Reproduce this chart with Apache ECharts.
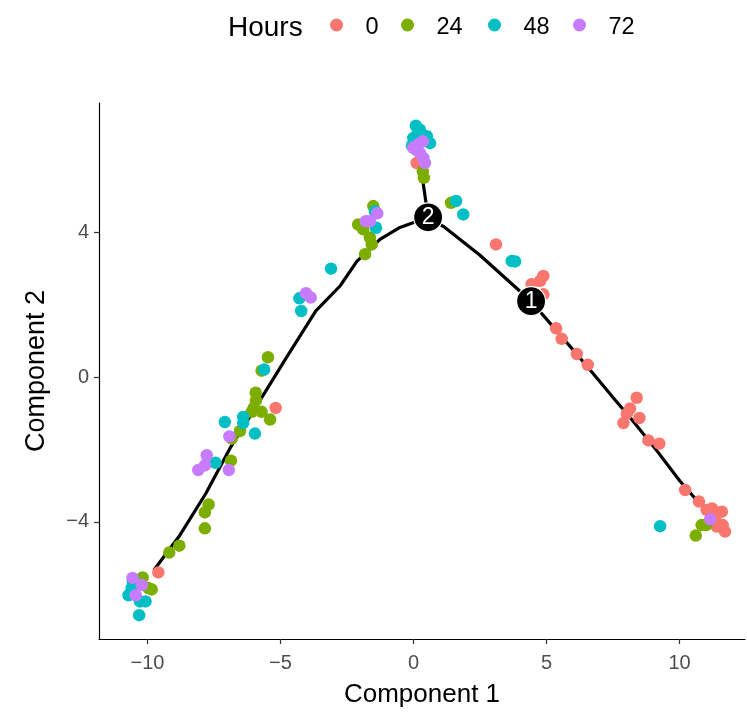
<!DOCTYPE html>
<html><head><meta charset="utf-8">
<script src="https://cdn.jsdelivr.net/npm/echarts@6/dist/echarts.min.js"></script>
<style>html,body{margin:0;padding:0;background:#fff}#c{width:747px;height:713px}</style>
</head><body><div id="c"></div>
<script>
const hours = ['0', '24', '48', '72'];
const pts0 = [[-9.59,-5.40],[-5.18,-0.85],[3.10,3.67],[4.88,2.80],[4.76,2.66],[4.44,2.57],[4.88,2.29],[5.36,1.35],[5.57,1.06],[6.14,0.64],[6.55,0.34],[8.39,-0.57],[8.14,-0.87],[8.02,-1.01],[8.49,-1.13],[7.89,-1.27],[8.83,-1.75],[9.24,-1.84],[10.21,-3.12],[10.73,-3.44],[11.02,-3.67],[11.59,-3.72],[11.33,-3.90],[11.62,-4.09],[11.71,-4.27],[11.40,-4.13],[11.22,-3.63],[0.12,5.92]];
const pts24 = [[-8.80,-4.66],[-9.18,-4.85],[-10.18,-5.54],[-9.84,-5.87],[-9.97,-5.83],[-7.70,-3.52],[-7.84,-3.74],[-7.84,-4.18],[-6.86,-2.31],[-6.83,-1.70],[-6.52,-1.49],[-6.08,-0.96],[-5.71,-0.96],[-5.39,-1.17],[-5.93,-0.43],[-5.92,-0.64],[-5.71,0.18],[-5.47,0.55],[-6.00,-0.85],[-1.82,3.40],[-1.57,3.67],[-1.64,3.86],[-1.89,4.09],[-2.08,4.22],[-1.51,4.73],[0.35,5.69],[0.39,5.51],[1.41,4.82],[10.83,-4.09],[11.00,-4.09],[10.61,-4.38]];
const pts48 = [[-10.59,-5.83],[-10.71,-6.03],[-10.28,-6.20],[-10.07,-6.20],[-10.31,-6.58],[-10.55,-5.64],[-7.44,-2.37],[-7.09,-1.24],[-6.40,-1.10],[-6.40,-1.27],[-5.96,-1.56],[-5.61,0.21],[-4.22,1.83],[-4.29,2.18],[-3.10,3.00],[-1.41,4.13],[-1.45,4.59],[1.60,4.87],[1.87,4.50],[3.69,3.21],[3.82,3.20],[9.27,-4.12],[0.09,6.95],[0.24,6.84],[-0.01,6.61],[0.50,6.66],[0.62,6.47],[0.17,6.76],[0.39,6.57],[-0.06,6.40]];
const pts72 = [[-10.56,-5.55],[-10.21,-5.75],[-10.44,-6.03],[-8.09,-2.57],[-7.84,-2.44],[-7.77,-2.16],[-6.92,-1.64],[-6.94,-2.57],[-4.04,2.32],[-3.86,2.20],[-1.79,4.31],[-1.64,4.31],[-1.36,4.53],[0.35,6.52],[-0.01,6.34],[0.24,6.20],[0.37,6.06],[0.43,5.92],[0.17,6.43],[0.09,6.29],[11.15,-3.93]];
const trunk = [[-9.76,-5.34],[-8.78,-4.37],[-7.80,-3.21],[-6.90,-1.97],[-5.85,-0.74],[-4.76,0.56],[-3.67,1.83],[-2.76,2.52],[-2.13,3.20],[-1.26,3.81],[-0.51,4.14],[0.55,4.42],[1.18,4.14],[2.50,3.37],[4.42,2.10],[5.51,1.17],[6.64,0.20],[7.58,-0.63],[8.21,-1.18],[9.08,-1.97],[10.02,-2.88],[10.58,-3.35],[10.96,-3.63]];
const branch = [[0.55,4.42],[0.36,5.38],[0.32,5.60]];
const nodes = [[4.42,2.10],[0.55,4.42]];
const nodeLabels = ['1', '2'];
const xTicks = [-10, -5, 0, 5, 10];
const yTicks = [-4, 0, 4];

const palette = ['#F8766D', '#7CAE00', '#00BFC4', '#C77CFF'];
const groups = [pts0, pts24, pts48, pts72];
const FONT = 'Liberation Sans, Arial, sans-serif';
const chart = echarts.init(document.getElementById('c'));
const legendLefts = [325, 396, 483, 568];
chart.setOption({
  animation: false,
  title: { text: 'Hours', left: 223, top: 9, textStyle: { fontFamily: FONT, fontSize: 28, fontWeight: 'normal', color: '#000' } },
  legend: hours.map((h, i) => ({
    data: [h], left: legendLefts[i], top: 11, icon: 'circle', itemWidth: 48, itemHeight: 13,
    formatter: n => '{a|' + n + '}',
    textStyle: { rich: { a: { fontFamily: FONT, fontSize: 23.5, color: '#000', padding: [6, 0, 0, 0] } } }
  })),
  grid: { left: 99, right: 2, top: 103, bottom: 72 },
  xAxis: {
    type: 'value', min: -11.82, max: 12.46,
    name: 'Component 1', nameLocation: 'middle', nameGap: 43,
    nameTextStyle: { fontFamily: FONT, fontSize: 26, color: '#000' },
    axisLine: { onZero: false, lineStyle: { color: '#000', width: 1.2 } },
    axisTick: { length: 5, customValues: xTicks, lineStyle: { color: '#333', width: 1.2 } },
    axisLabel: { customValues: xTicks, margin: 14, fontFamily: FONT, fontSize: 20, color: '#4D4D4D', formatter: v => String(v).replace('-', '\u2212') },
    splitLine: { show: false }
  },
  yAxis: {
    type: 'value', min: -7.24, max: 7.58,
    name: 'Component 2', nameLocation: 'middle', nameGap: 49,
    nameTextStyle: { fontFamily: FONT, fontSize: 27, color: '#000' },
    axisLine: { onZero: false, lineStyle: { color: '#000', width: 1.2 } },
    axisTick: { length: 5, customValues: yTicks, lineStyle: { color: '#333', width: 1.2 } },
    axisLabel: { customValues: yTicks, margin: 10, fontFamily: FONT, fontSize: 20, color: '#4D4D4D', formatter: v => String(v).replace('-', '\u2212') },
    splitLine: { show: false }
  },
  series: [
    { type: 'line', data: trunk, showSymbol: false, symbol: 'none', z: 1, lineStyle: { color: '#000', width: 3.2 }, silent: true },
    { type: 'line', data: branch, showSymbol: false, symbol: 'none', z: 1, lineStyle: { color: '#000', width: 3.2 }, silent: true },
    ...hours.map((h, i) => ({
      name: h, type: 'scatter', data: groups[i], symbol: 'circle', symbolSize: 12.5, z: 2,
      itemStyle: { color: palette[i], opacity: 1 }
    })),
    {
      type: 'scatter', data: nodes.map((p, i) => ({ value: p, label: { formatter: nodeLabels[i] } })),
      symbolSize: 29, z: 3, itemStyle: { color: '#000', opacity: 1, borderColor: '#fff', borderWidth: 1.2 },
      label: { show: true, position: 'inside', color: '#fff', fontFamily: FONT, fontSize: 23, fontWeight: 'normal' }
    }
  ]
});
</script></body></html>
